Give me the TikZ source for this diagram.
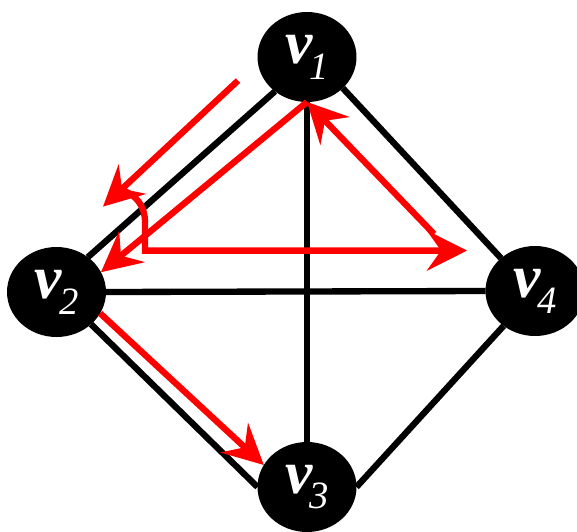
\documentclass[tikz,border=0pt]{standalone}
\usepackage{fontspec}
\setmainfont{Liberation Serif}
\usetikzlibrary{arrows.meta,shapes.geometric}
\newcommand{\vname}[1]{{\fontsize{35pt}{35pt}\selectfont\bfseries\itshape v}\kern-1.5pt\raisebox{-9pt}{\fontsize{22pt}{22pt}\selectfont\itshape #1}}

\begin{document}
\begin{tikzpicture}[x=0.02cm, y=-0.02cm,
  vertex/.style={ellipse, fill=black, text=white,
                 minimum width=1.98cm, minimum height=1.8cm,
                 inner sep=0pt, outer sep=0pt},
  edge/.style={line width=3.6pt, draw=black},
  walk/.style={line width=3.6pt, draw=red,
               -{Stealth[length=0.8cm, width=0.8cm, inset=0.28cm]}}
]
\useasboundingbox (0,0) rectangle (577,531);
\node[vertex] (v1) at (307,57)   {\vname{1}};
\node[vertex] (v2) at (56.5,292) {\vname{2}};
\node[vertex] (v3) at (307,487)  {\vname{3}};
\node[vertex] (v4) at (535,291)  {\vname{4}};
\draw[edge] (v1.227) -- (v2.48);
\draw[edge] (v1.-41) -- (v4.136);
\draw[edge] (v1.south) -- (v3.north);
\draw[edge] (v2.east) -- (v4.west);
\draw[edge] (v2.-43) -- (v3.west);
\draw[edge] (v3.east) -- (v4.228);
% free ends of the red walk
\coordinate (w1) at (238,80.6);
\coordinate (w2) at (103,206.6);
\coordinate (w3) at (121,190);
\coordinate (w4) at (145,250.6);
\coordinate (w5) at (467,250.6);
\coordinate (w6) at (434,234);
\draw[walk] (w1) -- (w2);
\draw[walk] (w3) to[out=-15, in=90] (145,222) -- (w4) -- (w5);
\draw[walk] (w6) -- (v1.south);
\draw[walk] (v1.south) -- (v2.24);
\draw[walk] (v2.-26) -- (v3.153);
\end{tikzpicture}
\end{document}
